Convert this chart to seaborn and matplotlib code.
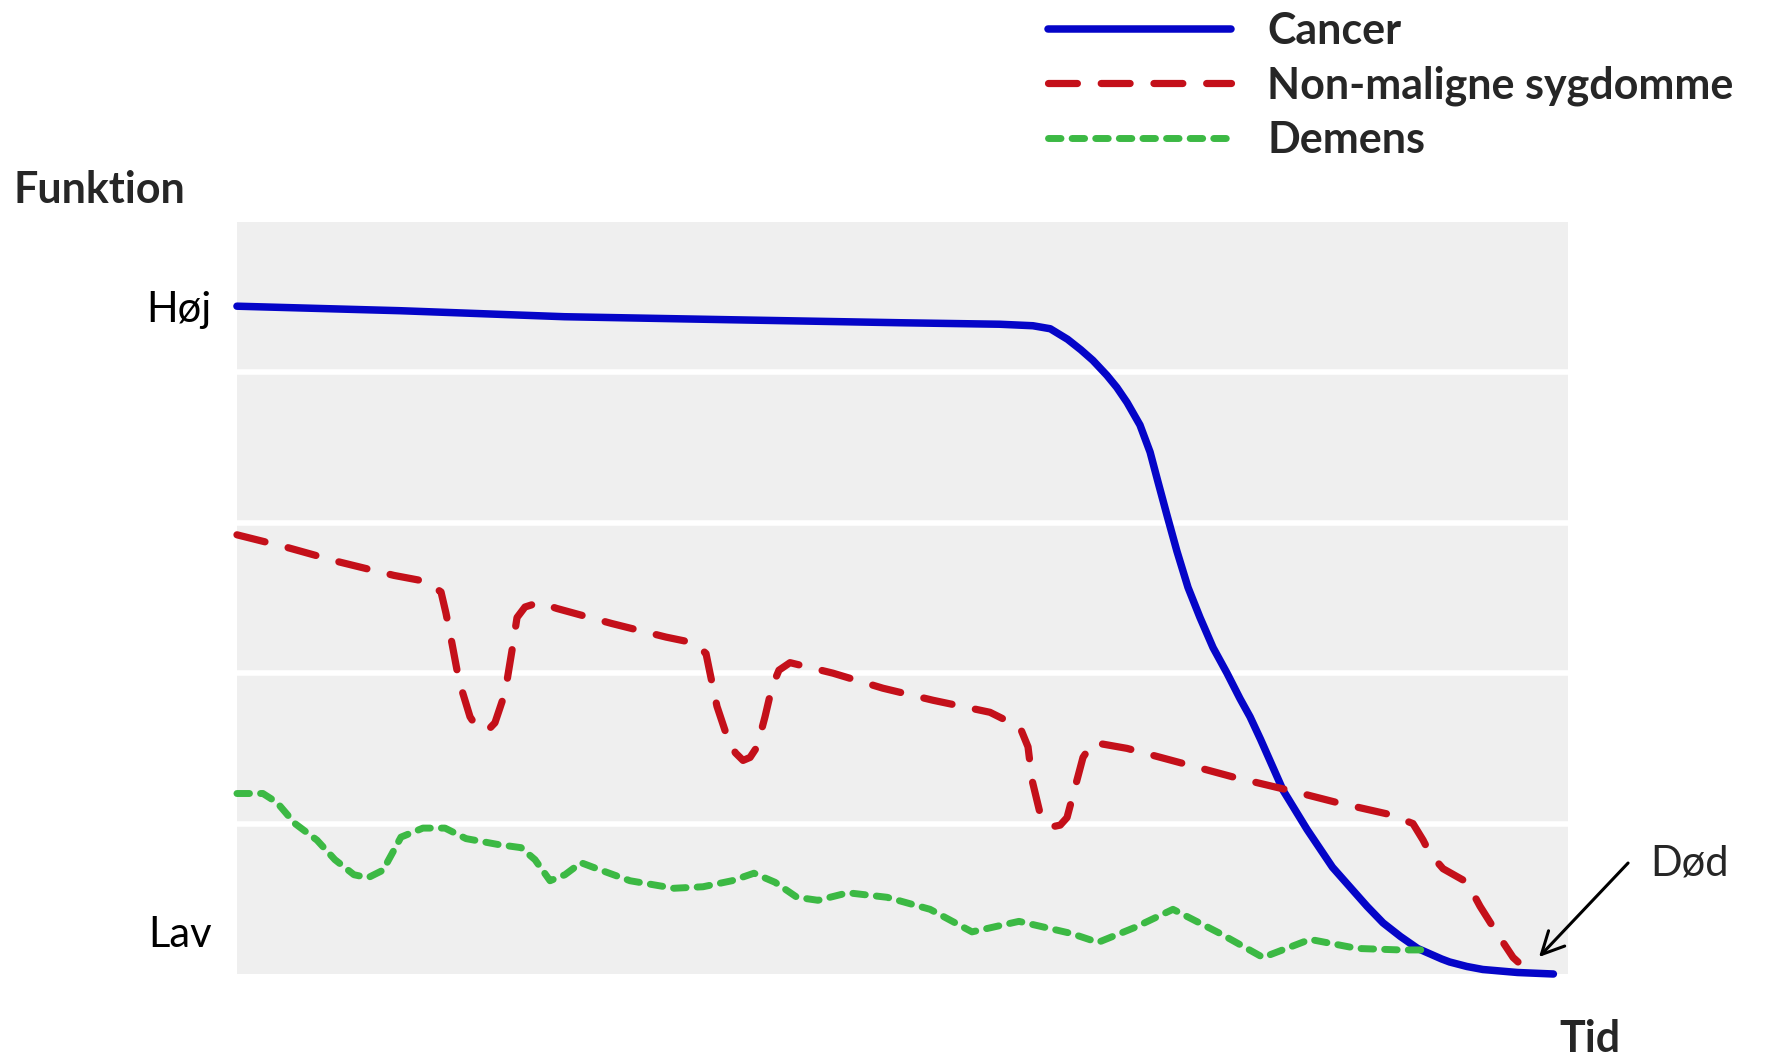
import matplotlib
matplotlib.use("Agg")
import matplotlib.pyplot as plt
import seaborn as sns

# curves (x: time 0-100, y: function 0-5)
cancer_x = [0, 12.25, 24.6, 37.0, 49.8, 57.3, 59.8, 61.1, 62.4, 63.4, 64.3, 65.36, 66.1,
            66.87, 67.84, 68.6, 69.2, 69.87, 70.62, 71.45, 72.35, 73.33, 74.38, 75.36,
            76.11, 76.9, 78.6, 80.4, 82.3, 83.6, 84.9, 86.1, 87.4, 88.7, 90.5, 91.1,
            92.4, 93.6, 96.2, 98.9]
cancer_y = [4.44, 4.41, 4.37, 4.35, 4.33, 4.32, 4.31, 4.29, 4.22, 4.15, 4.08, 3.98, 3.90,
            3.80, 3.65, 3.47, 3.27, 3.05, 2.81, 2.57, 2.37, 2.17, 2.00, 1.83,
            1.71, 1.56, 1.22, 0.96, 0.71, 0.58, 0.45, 0.34, 0.25, 0.17, 0.10, 0.08,
            0.05, 0.03, 0.01, 0.0]

nonmal_x = [0, 3.61, 7.66, 11.80, 14.20, 15.33, 15.70, 16.15, 16.68, 17.51, 17.95, 18.48,
            18.95, 19.38, 20.14, 20.66, 21.04, 21.64, 22.69, 24.04, 28.17, 32.23, 34.41,
            35.24, 35.54, 36.06, 36.89, 37.45, 38.02, 38.55, 39.07, 39.67, 40.20, 40.72,
            41.55, 44.78, 48.53, 52.29, 56.57, 58.83, 59.43, 59.73, 60.33, 60.80, 61.31,
            61.85, 62.36, 62.96, 63.56, 64.31, 66.87, 71.07, 74.83, 79.11, 82.64, 86.63,
            88.35, 89.11, 89.63, 90.61, 92.41, 93.39, 94.67, 95.87, 96.24]
nonmal_y = [2.92, 2.84, 2.74, 2.65, 2.61, 2.54, 2.40, 2.20, 1.95, 1.71, 1.65, 1.62,
            1.63, 1.67, 1.87, 2.15, 2.37, 2.44, 2.47, 2.43, 2.33, 2.24, 2.20,
            2.13, 2.00, 1.78, 1.56, 1.47, 1.42, 1.44, 1.51, 1.71, 1.91, 2.02,
            2.07, 2.00, 1.90, 1.82, 1.74, 1.64, 1.51, 1.29, 1.07, 1.01, 0.98,
            0.99, 1.04, 1.24, 1.44, 1.54, 1.50, 1.40, 1.31, 1.22, 1.14, 1.06,
            1.00, 0.89, 0.80, 0.70, 0.61, 0.45, 0.27, 0.11, 0.08]

demens_x = [0, 1.95, 3.01, 4.36, 6.01, 7.36, 8.79, 9.84, 10.97, 11.65, 12.32, 13.97,
            15.63, 17.21, 19.68, 21.34, 22.39, 23.52, 24.64, 25.85, 27.35, 29.53,
            32.83, 35.01, 37.19, 38.84, 40.42, 42.07, 43.65, 45.90, 48.84, 52.07,
            55.22, 58.75, 62.66, 64.69, 67.47, 70.32, 73.85, 77.08, 80.62, 84.15,
            87.38, 89.26]
demens_y = [1.20, 1.20, 1.14, 1.00, 0.89, 0.76, 0.66, 0.64, 0.69, 0.80, 0.91, 0.97,
            0.97, 0.90, 0.86, 0.84, 0.76, 0.62, 0.66, 0.74, 0.69, 0.62,
            0.57, 0.58, 0.62, 0.67, 0.61, 0.51, 0.49, 0.54, 0.51, 0.43,
            0.28, 0.35, 0.27, 0.21, 0.31, 0.43, 0.27, 0.11, 0.23, 0.17,
            0.16, 0.16]

labels = ["Cancer", "Non-maligne sygdomme", "Demens"]
ytick_pos = [0.28, 4.44]
ytick_labels = ["Lav", "Høj"]

sns.set_theme(style="darkgrid", rc={"axes.facecolor": "#efefef",
                                    "grid.color": "white",
                                    "grid.linewidth": 4.0})
plt.rcParams['font.family'] = ['Lato', 'DejaVu Sans']

fig = plt.figure(figsize=(17.71, 10.61), dpi=100)
ax = fig.add_axes([0.1338, 0.0820, 0.7516, 0.7088])

series = [
    (cancer_x, cancer_y, "#0505c8", 5.4, "-"),
    (nonmal_x, nonmal_y, "#c4101a", 5.2, (0, (4.0, 3.3))),
    (demens_x, demens_y, "#3cb944", 5.0, (0, (1.8, 1.6))),
]
for (xs, ys, col, lw, ls), lab in zip(series, labels):
    sns.lineplot(x=xs, y=ys, ax=ax, color=col, lw=lw, linestyle=ls, label=lab,
                 estimator=None, sort=False, dash_capstyle="round",
                 solid_capstyle="round", solid_joinstyle="round",
                 dash_joinstyle="round", clip_on=False)

ax.set_xlim(0, 100)
ax.set_ylim(0, 5)
ax.set_xticks([])
ax.set_yticks(ytick_pos)
ax.set_yticklabels(ytick_labels, fontsize=30)
ax.set_yticks([1, 2, 3, 4], minor=True)
ax.grid(which="major", visible=False)
ax.grid(which="minor", axis="y", color="white", lw=4.0)
ax.tick_params(axis="y", which="both", length=0, pad=18, labelcolor="black")
sns.despine(ax=ax, left=True, bottom=True)

handles, labs = ax.get_legend_handles_labels()
ax.get_legend().remove()
fig.legend(handles, labs, loc="upper left", bbox_to_anchor=(0.5918, 0.9896),
           frameon=False, borderpad=0, borderaxespad=0, handlelength=4.25,
           handletextpad=0.84, labelspacing=0.33,
           prop={"weight": "bold", "size": 31})

fig.text(0.0079, 0.8209, "Funktion", fontsize=31, fontweight="bold",
         ha="left", va="center")
fig.text(0.8803, 0.0207, "Tid", fontsize=31, fontweight="bold",
         ha="left", va="center")
fig.text(0.9317, 0.1857, "Død", fontsize=30, ha="left", va="center")
ax.annotate("", xy=(0.8690, 0.0980), xycoords="figure fraction",
            xytext=(0.9193, 0.1866), textcoords="figure fraction",
            arrowprops=dict(arrowstyle="->", lw=2.2, color="black",
                            mutation_scale=40, shrinkA=0, shrinkB=0))

fig.savefig("out.png", dpi=100, facecolor="white")
